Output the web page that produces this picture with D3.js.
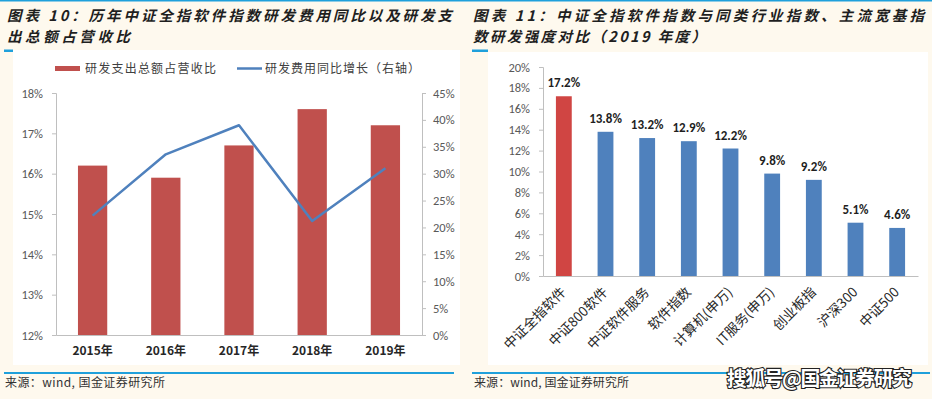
<!DOCTYPE html>
<html lang="zh">
<head>
<meta charset="UTF-8">
<script src="https://d3js.org/d3.v7.min.js"></script>
<style>
    body { margin: 0; background: #fef9ee; }
    svg text { font-family: "Noto Sans CJK SC", sans-serif; }
    .num { font-family: Carlito, Lato, "Open Sans", sans-serif; }
</style>
</head>
<body>
<script>
// chart 10 data
var years = ["2015年", "2016年", "2017年", "2018年", "2019年"];
var rdRatio = [16.2, 15.9, 16.7, 17.6, 17.2];      // 研发支出总额占营收比 (%)
var rdGrowth = [22.2, 33.6, 39.0, 21.2, 31.0];     // 研发费用同比增长 (%), right axis
var leftTicks = [12, 13, 14, 15, 16, 17, 18];
var rightTicks = [0, 5, 10, 15, 20, 25, 30, 35, 40, 45];

// chart 11 data
var indices = ["中证全指软件", "中证800软件", "中证软件服务", "软件指数", "计算机(申万)", "IT服务(申万)", "创业板指", "沪深300", "中证500"];
var intensity = [17.2, 13.8, 13.2, 12.9, 12.2, 9.8, 9.2, 5.1, 4.6];
var intensityTicks = [0, 2, 4, 6, 8, 10, 12, 14, 16, 18, 20];

var W = 932, H = 399;
var svg = d3.select("body").append("svg").attr("width", W).attr("height", H);

var blue = "#4f81bd", red = "#c0504d", axisCol = "#bfbfbf", tickText = "#595959", accent = "#1fa0db";

// page frame: top line, titles, separators
svg.append("rect").attr("x", 0).attr("y", 0).attr("width", W).attr("height", 1.5).attr("fill", accent);

function title(x, y, str, len) {
    svg.append("text").attr("x", x).attr("y", y)
        .attr("textLength", len).attr("lengthAdjust", "spacing")
        .style("font-size", "14.5px").style("font-weight", "bold").style("font-style", "italic")
        .attr("fill", "#1f1f1f").text(str);
}
title(7, 20.5, "图表 10：历年中证全指软件指数研发费用同比以及研发支", 445);
title(7, 41.5, "出总额占营收比", 123);
title(473, 20.5, "图表 11：中证全指软件指数与同类行业指数、主流宽基指", 451);
title(473, 41.5, "数研发强度对比（2019 年度）", 233);

svg.append("rect").attr("x", 4).attr("y", 49.5).attr("width", 9).attr("height", 2.5).attr("fill", accent);
svg.append("rect").attr("x", 472).attr("y", 49.5).attr("width", 16).attr("height", 2.5).attr("fill", accent);

// white plot backgrounds
svg.append("rect").attr("x", 13).attr("y", 50).attr("width", 447).attr("height", 315).attr("fill", "#ffffff");
svg.append("rect").attr("x", 488).attr("y", 52).attr("width", 440).attr("height", 313).attr("fill", "#ffffff");

// bottom lines + sources
svg.append("rect").attr("x", 4).attr("y", 372).attr("width", 450).attr("height", 2).attr("fill", accent);
svg.append("rect").attr("x", 472).attr("y", 372).attr("width", 458).attr("height", 2).attr("fill", accent);
[[5, 160], [474, 155]].forEach(function (p) {
    svg.append("text").attr("x", p[0]).attr("y", 387).attr("textLength", p[1]).attr("lengthAdjust", "spacing")
        .style("font-size", "12px").attr("fill", "#333").text("来源：wind, 国金证券研究所");
});

// ---------- chart 10 ----------
var g1 = svg.append("g");
var x1 = d3.scaleBand().domain(years).range([56, 422]).paddingInner(0.6).paddingOuter(0.3);
var yL = d3.scaleLinear().domain([12, 18]).range([335, 93]);
var yR = d3.scaleLinear().domain([0, 45]).range([335, 93]);

g1.selectAll("rect.bar").data(rdRatio).enter().append("rect")
    .attr("class", "bar")
    .attr("x", function (d, i) { return x1(years[i]); })
    .attr("y", function (d) { return yL(d); })
    .attr("width", x1.bandwidth())
    .attr("height", function (d) { return yL(12) - yL(d); })
    .attr("fill", red);

var axL = g1.append("g").attr("transform", "translate(56,0)")
    .call(d3.axisLeft(yL).tickValues(leftTicks).tickSize(4).tickFormat(function (d) { return d + "%"; }));
var axR = g1.append("g").attr("transform", "translate(422,0)")
    .call(d3.axisRight(yR).tickValues(rightTicks).tickSize(4).tickFormat(function (d) { return d + "%"; }));
var axB = g1.append("g").attr("transform", "translate(0,335)")
    .call(d3.axisBottom(x1).tickSize(0).tickPadding(11));

[axL, axR].forEach(function (a) {
    a.selectAll("path, line").attr("stroke", axisCol);
    a.selectAll("text").attr("class", "num").attr("fill", tickText).style("font-size", "12.5px");
});
axL.selectAll("text").attr("x", -13);
axR.selectAll("text").attr("x", 11);
axB.select("path").attr("stroke", axisCol);
axB.selectAll("text").attr("fill", "#262626").style("font-size", "12px").style("font-weight", "bold");

var line = d3.line()
    .x(function (d, i) { return x1(years[i]) + x1.bandwidth() / 2; })
    .y(function (d) { return yR(d); });
g1.append("path").datum(rdGrowth).attr("d", line)
    .attr("fill", "none").attr("stroke", blue).attr("stroke-width", 2.5).attr("stroke-linejoin", "round");

// legend
g1.append("rect").attr("x", 55).attr("y", 66).attr("width", 25).attr("height", 5).attr("fill", red);
g1.append("text").attr("x", 85).attr("y", 73).attr("textLength", 131).attr("lengthAdjust", "spacing")
    .style("font-size", "12px").attr("fill", "#404040").text("研发支出总额占营收比");
g1.append("line").attr("x1", 237).attr("x2", 262).attr("y1", 68.5).attr("y2", 68.5)
    .attr("stroke", blue).attr("stroke-width", 2.5);
g1.append("text").attr("x", 265).attr("y", 73).attr("textLength", 155).attr("lengthAdjust", "spacing")
    .style("font-size", "12px").attr("fill", "#404040").text("研发费用同比增长（右轴）");

// ---------- chart 11 ----------
var g2 = svg.append("g");
var x2 = d3.scaleBand().domain(indices).range([543, 918]).paddingInner(0.62).paddingOuter(0.31);
var y2 = d3.scaleLinear().domain([0, 20]).range([276, 67]);

g2.selectAll("rect.bar").data(intensity).enter().append("rect")
    .attr("class", "bar")
    .attr("x", function (d, i) { return x2(indices[i]); })
    .attr("y", function (d) { return y2(d); })
    .attr("width", x2.bandwidth())
    .attr("height", function (d) { return y2(0) - y2(d); })
    .attr("fill", function (d, i) { return i === 0 ? "#d04543" : blue; });

g2.selectAll("text.lbl").data(intensity).enter().append("text")
    .attr("class", "lbl num")
    .attr("x", function (d, i) { return x2(indices[i]) + x2.bandwidth() / 2; })
    .attr("y", function (d) { return y2(d) - 9; })
    .attr("text-anchor", "middle")
    .style("font-size", "13px").style("font-weight", "bold").attr("fill", "#1f1f1f")
    .text(function (d) { return d.toFixed(1) + "%"; });

var ax2 = g2.append("g").attr("transform", "translate(543,0)")
    .call(d3.axisLeft(y2).tickValues(intensityTicks).tickSize(4).tickFormat(function (d) { return d + "%"; }));
ax2.selectAll("path, line").attr("stroke", axisCol);
ax2.selectAll("text").attr("class", "num").attr("fill", tickText).style("font-size", "12.5px").attr("x", -13);

var ax2b = g2.append("g").attr("transform", "translate(0,276)")
    .call(d3.axisBottom(x2).tickSize(0));
ax2b.select("path").attr("stroke", axisCol);
ax2b.selectAll("text")
    .attr("x", 0).attr("y", 0).attr("dy", 0)
    .attr("transform", "translate(3,17) rotate(-45)")
    .attr("text-anchor", "end")
    .style("font-size", "13.5px").attr("fill", "#262626");

// watermark
svg.append("text").attr("x", 727).attr("y", 386).attr("textLength", 185).attr("lengthAdjust", "spacing")
    .style("font-size", "20px").style("font-weight", "bold")
    .attr("fill", "#ffffff").attr("stroke", "#222").attr("stroke-width", 2.2)
    .attr("paint-order", "stroke").text("搜狐号@国金证券研究");
</script>
</body>
</html>
